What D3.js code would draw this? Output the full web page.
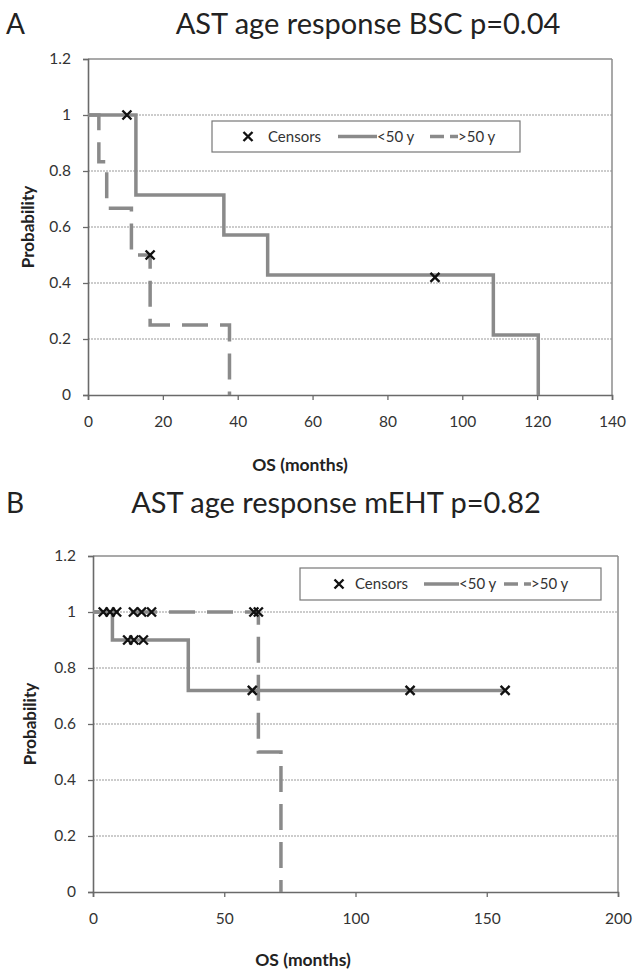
<!DOCTYPE html>
<html><head><meta charset="utf-8">
<script src="https://cdn.jsdelivr.net/npm/d3@7"></script>
<style>body{margin:0;background:#fff}svg{display:block}text{font-family:Lato,"Open Sans",sans-serif}</style>
</head><body>
<svg id="c" width="640" height="979"></svg>
<script>
// ---- data ----
const yTicks = [0, 0.2, 0.4, 0.6, 0.8, 1, 1.2];
const xTicksA = [0, 20, 40, 60, 80, 100, 120, 140];
const xTicksB = [0, 50, 100, 150, 200];
const seriesNames = ["<50 y", ">50 y"];

// Panel A (BSC)
const aYoungTime = [0, 12.8, 36.3, 48, 108.3, 120.3];
const aYoungSurv = [1, 0.714, 0.571, 0.429, 0.214, 0];
const aOldTime = [0, 2.9, 5, 11.6, 16.6, 37.8];
const aOldSurv = [1, 0.833, 0.667, 0.5, 0.25, 0];
const aCensorTime = [10.4, 16.6, 92.7];
const aCensorSurv = [1, 0.5, 0.42];

// Panel B (mEHT)
const bYoungTime = [0, 7.4, 36.3, 157];
const bYoungSurv = [1, 0.9, 0.72, 0.72];
const bOldTime = [0, 63, 71.6];
const bOldSurv = [1, 0.5, 0];
const bCensorTime = [3.9, 6.5, 9.0, 15.4, 18.5, 22.3, 61.3, 63, 13.2, 15.6, 19.2, 60.7, 120.8, 157];
const bCensorSurv = [1, 1, 1, 1, 1, 1, 1, 1, 0.9, 0.9, 0.9, 0.72, 0.72, 0.72];

const svg = d3.select("#c");
const lineCol = "#8a8a8a";

function panel(o) {
  const x = d3.scaleLinear().domain(o.xDomain).range([o.left, o.right]);
  const y = d3.scaleLinear().domain([0, 1.2]).range([o.bottom, o.top]);
  const g = svg.append("g");

  // letter + title
  g.append("text").attr("x", 6).attr("y", o.titleY).attr("font-size", 28).attr("fill", "#222").text(o.letter);
  g.append("text").attr("x", o.titleX).attr("y", o.titleY).attr("text-anchor", "middle")
    .attr("font-size", 29).attr("fill", "#222").text(o.title);

  // gridlines
  g.selectAll(".grid").data(yTicks.filter(d => d > 0 && d < 1.2)).join("line")
    .attr("x1", o.left).attr("x2", o.right).attr("y1", d => y(d)).attr("y2", d => y(d))
    .attr("stroke", "#9a9a9a").attr("stroke-width", 1.2).attr("stroke-dasharray", "2,1");

  // plot border top/right
  g.append("line").attr("x1", o.left).attr("x2", o.right).attr("y1", y(1.2)).attr("y2", y(1.2))
    .attr("stroke", "#8c8c8c").attr("stroke-width", 1.5);
  g.append("line").attr("x1", o.right).attr("x2", o.right).attr("y1", y(1.2)).attr("y2", y(0))
    .attr("stroke", "#8c8c8c").attr("stroke-width", 1.5);

  // axes
  const yAxis = d3.axisLeft(y).tickValues(yTicks).tickSize(5).tickPadding(12).tickFormat(d3.format("~g"));
  const ya = g.append("g").attr("transform", `translate(${o.left},0)`).call(yAxis);
  const xAxis = d3.axisBottom(x).tickValues(o.xTicks).tickSize(5).tickPadding(16).tickFormat(d3.format("d"));
  const xa = g.append("g").attr("transform", `translate(0,${o.bottom})`).call(xAxis);
  [ya, xa].forEach(a => {
    a.select(".domain").attr("stroke", "#6a6a6a").attr("stroke-width", 1.6);
    a.selectAll(".tick line").attr("stroke", "#6a6a6a").attr("stroke-width", 1.3);
    a.selectAll("text").attr("font-size", 15.5).attr("fill", "#333").attr("font-family", "Lato,sans-serif");
  });

  // axis titles
  g.append("text").attr("transform", `translate(${o.ylabX},${(y(0) + y(1.2)) / 2}) rotate(-90)`)
    .attr("text-anchor", "middle").attr("font-size", 17).attr("font-weight", "bold").attr("fill", "#222").text("Probability");
  g.append("text").attr("x", o.xlabX).attr("y", o.xlabY).attr("text-anchor", "middle")
    .attr("font-size", 17.5).attr("font-weight", "bold").attr("fill", "#222").text("OS (months)");

  // curves
  const line = d3.line().x(d => x(d[0])).y(d => y(d[1])).curve(d3.curveStepAfter);
  const young = o.youngT.map((t, i) => [t, o.youngS[i]]);
  const old = o.oldT.map((t, i) => [t, o.oldS[i]]);
  g.append("path").datum(young).attr("d", line).attr("fill", "none")
    .attr("stroke", lineCol).attr("stroke-width", 3.5);
  g.append("path").datum(old).attr("d", line).attr("fill", "none")
    .attr("stroke", lineCol).attr("stroke-width", 3.5).attr("stroke-dasharray", "26,12");

  // censors
  const cs = o.cT.map((t, i) => [t, o.cS[i]]);
  const r = 4.5;
  g.selectAll(".cens").data(cs).join("path")
    .attr("d", d => { const cx = x(d[0]), cy = y(d[1]);
      return `M${cx - r},${cy - r}L${cx + r},${cy + r}M${cx - r},${cy + r}L${cx + r},${cy - r}`; })
    .attr("stroke", "#111").attr("stroke-width", 2.4).attr("fill", "none");

  // legend
  const L = o.legend;
  g.append("rect").attr("x", L.x).attr("y", L.y).attr("width", L.w).attr("height", L.h)
    .attr("fill", "#fff").attr("stroke", "#777").attr("stroke-width", 1.2);
  const cy = L.y + L.h / 2;
  const lx = L.x + L.items[0];
  g.append("path").attr("d", `M${lx - r},${cy - r}L${lx + r},${cy + r}M${lx - r},${cy + r}L${lx + r},${cy - r}`)
    .attr("stroke", "#111").attr("stroke-width", 2.4);
  g.append("text").attr("x", L.x + L.items[1]).attr("y", cy + 5).attr("font-size", L.fs).attr("fill", "#333").text("Censors");
  g.append("line").attr("x1", L.x + L.items[2]).attr("x2", L.x + L.items[3]).attr("y1", cy).attr("y2", cy)
    .attr("stroke", lineCol).attr("stroke-width", 3.5);
  g.append("text").attr("x", L.x + L.items[3]).attr("y", cy + 5).attr("font-size", L.fs).attr("fill", "#333").text(seriesNames[0]);
  g.append("line").attr("x1", L.x + L.items[4]).attr("x2", L.x + L.items[5]).attr("y1", cy).attr("y2", cy)
    .attr("stroke", lineCol).attr("stroke-width", 3.5).attr("stroke-dasharray", "14,6");
  g.append("text").attr("x", L.x + L.items[5]).attr("y", cy + 5).attr("font-size", L.fs).attr("fill", "#333").text(seriesNames[1]);
}

panel({
  letter: "A", title: "AST age response BSC p=0.04", titleX: 368, titleY: 34,
  xDomain: [0, 140], xTicks: xTicksA, left: 88, right: 612, top: 59, bottom: 395,
  ylabX: 34, xlabX: 300, xlabY: 471,
  youngT: aYoungTime, youngS: aYoungSurv, oldT: aOldTime, oldS: aOldSurv,
  cT: aCensorTime, cS: aCensorSurv,
  legend: { x: 212, y: 121, w: 308, h: 31, fs: 15, items: [36, 56, 126, 165, 218, 246] }
});

panel({
  letter: "B", title: "AST age response mEHT p=0.82", titleX: 336, titleY: 513,
  xDomain: [0, 200], xTicks: xTicksB, left: 93, right: 618, top: 556, bottom: 892,
  ylabX: 36, xlabX: 303, xlabY: 966,
  youngT: bYoungTime, youngS: bYoungSurv, oldT: bOldTime, oldS: bOldSurv,
  cT: bCensorTime, cS: bCensorSurv,
  legend: { x: 300, y: 568, w: 301, h: 32, fs: 15, items: [39, 55, 124, 159, 204, 231] }
});
</script>
</body></html>
